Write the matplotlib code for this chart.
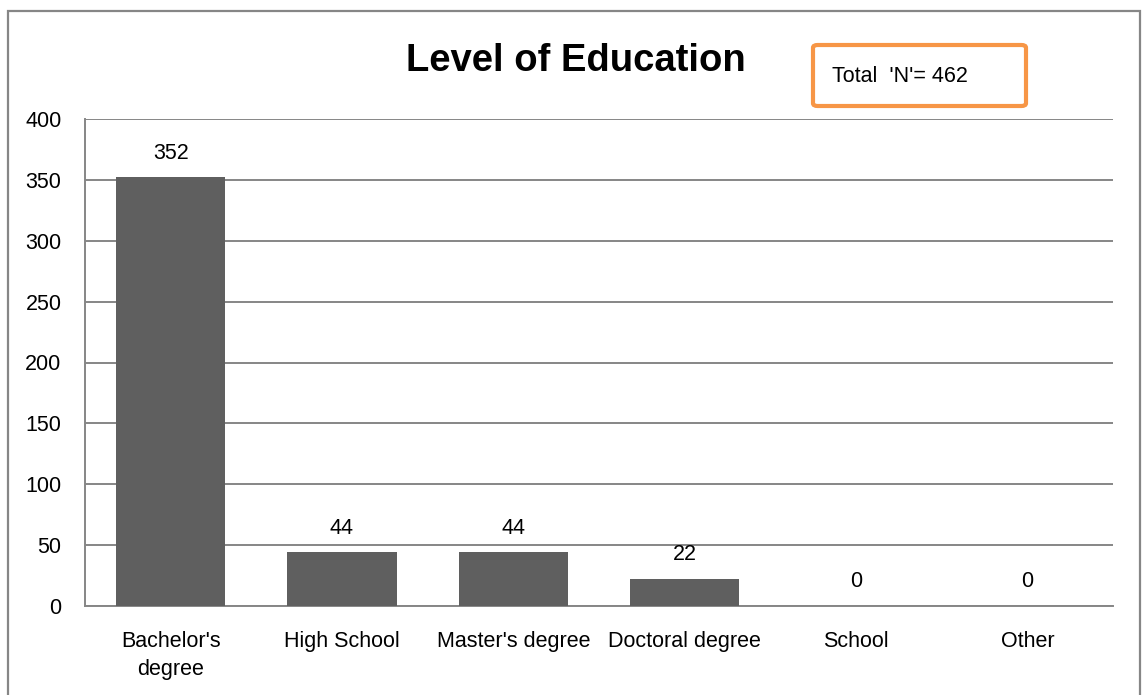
import matplotlib
matplotlib.use("Agg")
import matplotlib.pyplot as plt
from matplotlib.patches import Rectangle, FancyBboxPatch

categories = ["Bachelor's\ndegree", "High School", "Master's degree",
              "Doctoral degree", "School", "Other"]
counts = [352, 44, 44, 22, 0, 0]
yticks = [0, 50, 100, 150, 200, 250, 300, 350, 400]

plt.rcParams['font.family'] = ['Liberation Sans', 'DejaVu Sans']
fs = 15.5

W, H = 1142, 695
fig = plt.figure(figsize=(W / 100, H / 100), dpi=100)

# outer border of the chart area
fig.patches.append(Rectangle((8 / W, -0.05), 1132 / W, 1 - 11 / H + 0.05,
                             transform=fig.transFigure, fill=False,
                             edgecolor='#868686', linewidth=1.6))

ax = fig.add_axes([85 / W, 1 - 606 / H, (1113 - 85) / W, (606 - 119) / H])
x = range(len(categories))
ax.bar(x, counts, width=0.64, color='#5f5f5f', zorder=3)

ax.set_xlim(-0.5, len(categories) - 0.5)
ax.set_ylim(0, 400)
ax.set_yticks(yticks)
ax.set_xticks(list(x))
ax.set_xticklabels(categories, fontsize=fs, linespacing=1.45)
ax.tick_params(axis='y', labelsize=fs, length=0, pad=17)
ax.tick_params(axis='x', length=0, pad=18)
ax.yaxis.grid(True, color='#868686', linewidth=1.4, zorder=0)

for side in ['top', 'right']:
    ax.spines[side].set_visible(False)
for side in ['left', 'bottom']:
    ax.spines[side].set_color('#868686')
    ax.spines[side].set_linewidth(1.4)

for i, v in enumerate(counts):
    ax.annotate(str(v), (i, v), xytext=(0, 13.5), textcoords='offset points',
                ha='center', va='baseline', fontsize=fs)

fig.text(576 / W, 1 - 71 / H, 'Level of Education', fontsize=27.5,
         fontweight='bold', ha='center', va='baseline')

# "Total N" note box
fig.patches.append(FancyBboxPatch((813 / W, 1 - 106 / H), 213 / W, 61 / H,
                                  boxstyle='round,pad=0,rounding_size=0.004',
                                  transform=fig.transFigure, fill=False,
                                  edgecolor='#f79646', linewidth=3))
fig.text(832 / W, 1 - 82 / H, "Total  'N'= 462", fontsize=fs,
         ha='left', va='baseline')

fig.savefig('out.png', dpi=100)
